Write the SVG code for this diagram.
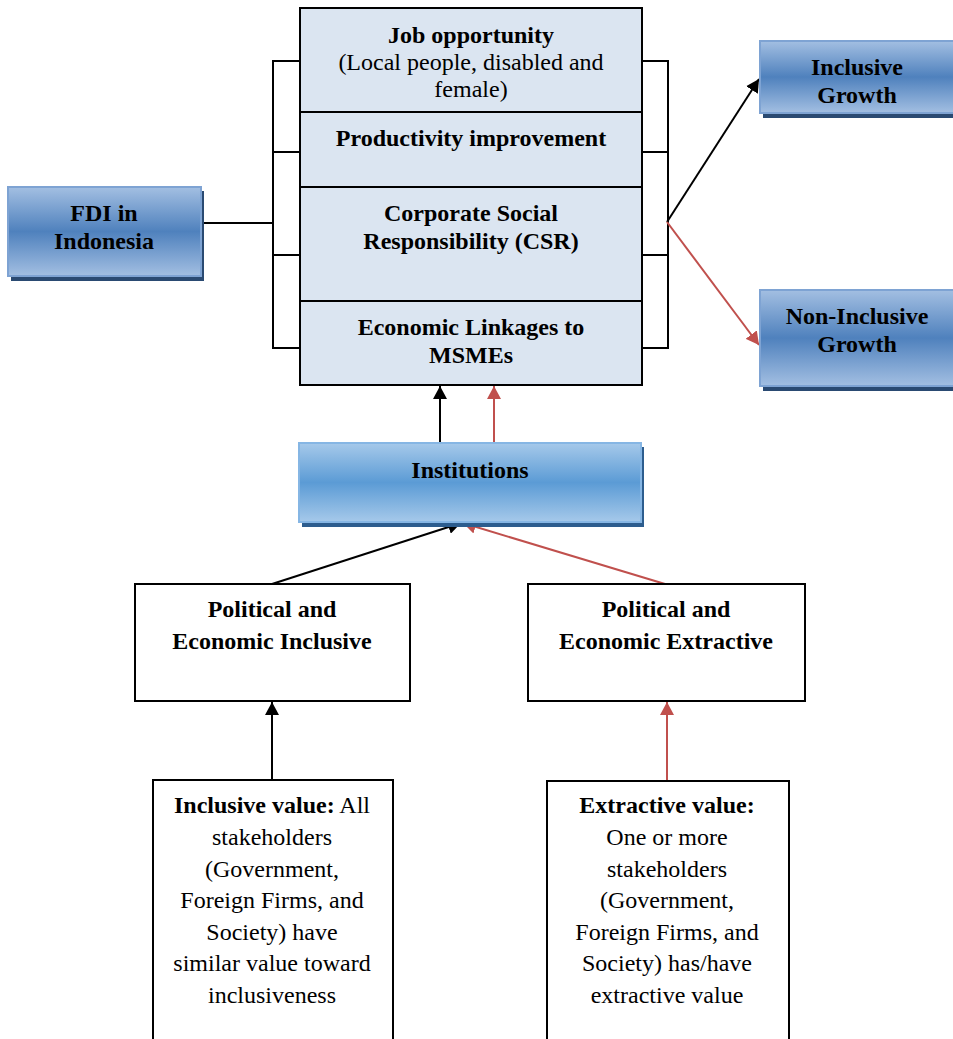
<svg xmlns="http://www.w3.org/2000/svg" width="953" height="1039" viewBox="0 0 953 1039">
  <defs>
    <linearGradient id="gradDark" x1="0" y1="0" x2="0" y2="1">
      <stop offset="0" stop-color="#a3bfe2"/>
      <stop offset="0.5" stop-color="#4f81bd"/>
      <stop offset="1" stop-color="#a3bfe2"/>
    </linearGradient>
    <linearGradient id="gradLight" x1="0" y1="0" x2="0" y2="1">
      <stop offset="0" stop-color="#a6c9ea"/>
      <stop offset="0.5" stop-color="#5b9bd5"/>
      <stop offset="1" stop-color="#a6c9ea"/>
    </linearGradient>
    <marker id="arrowBlack" markerUnits="userSpaceOnUse" markerWidth="14" markerHeight="14" refX="13" refY="7" orient="auto">
      <path d="M0,0 L13,7 L0,14 z" fill="#000"/>
    </marker>
    <marker id="arrowRed" markerUnits="userSpaceOnUse" markerWidth="14" markerHeight="14" refX="13" refY="7" orient="auto">
      <path d="M0,0 L13,7 L0,14 z" fill="#c0504d"/>
    </marker>
  </defs>
  <style>
    text { font-family: "Liberation Serif", "Times New Roman", serif; font-size: 24px; fill: #000; text-anchor: middle; }
    .b { font-weight: bold; }
    .stack { fill: #dbe5f1; stroke: #000; stroke-width: 2; }
    .plain { fill: #fff; stroke: #000; stroke-width: 2; }
    .blue { fill: url(#gradDark); stroke: #7ea3d3; stroke-width: 2; }
    .blueLight { fill: url(#gradLight); stroke: #86b6e4; stroke-width: 2; }
    .shadowDark { fill: #2a4a72; }
    .shadowLight { fill: #2d5d8e; }
    .wire { fill: none; stroke: #000; stroke-width: 2; }
    .red { fill: none; stroke: #c0504d; stroke-width: 2; }
  </style>

  <rect width="953" height="1039" fill="#fff"/>

  <!-- connectors -->
  <g id="connectors">
    <path class="wire" d="M201,223 H273"/>
    <path class="wire" d="M300,61 H273 V348 H300 M273,152 H300 M273,255 H300"/>
    <path class="wire" d="M642,61 H668 V348 H642 M668,152 H642 M668,255 H642"/>
    <line class="wire" x1="667" y1="222" x2="759" y2="79" marker-end="url(#arrowBlack)"/>
    <line class="red" x1="667" y1="222" x2="759" y2="345" marker-end="url(#arrowRed)"/>
    <line class="wire" x1="440" y1="443" x2="440" y2="386" marker-end="url(#arrowBlack)"/>
    <line class="red" x1="494" y1="443" x2="494" y2="386" marker-end="url(#arrowRed)"/>
    <line class="wire" x1="272" y1="584" x2="461" y2="523" marker-end="url(#arrowBlack)"/>
    <line class="red" x1="665" y1="584" x2="463" y2="523" marker-end="url(#arrowRed)"/>
    <line class="wire" x1="272" y1="780" x2="272" y2="702" marker-end="url(#arrowBlack)"/>
    <line class="red" x1="667" y1="780" x2="667" y2="702" marker-end="url(#arrowRed)"/>
  </g>

  <!-- FDI in Indonesia -->
  <g id="fdi">
    <rect class="shadowDark" x="11" y="191" width="193" height="90"/>
    <rect class="blue" x="8" y="187" width="193" height="89"/>
    <text class="b" x="104" y="221">FDI in</text>
    <text class="b" x="104" y="249">Indonesia</text>
  </g>

  <!-- Job opportunity -->
  <g id="job">
    <rect class="stack" x="300" y="8" width="342" height="104"/>
    <text class="b" x="471" y="43">Job opportunity</text>
    <text x="471" y="70">(Local people, disabled and</text>
    <text x="471" y="97">female)</text>
  </g>

  <!-- Productivity improvement -->
  <g id="productivity">
    <rect class="stack" x="300" y="112" width="342" height="75"/>
    <text class="b" x="471" y="146">Productivity improvement</text>
  </g>

  <!-- CSR -->
  <g id="csr">
    <rect class="stack" x="300" y="187" width="342" height="114"/>
    <text class="b" x="471" y="221">Corporate Social</text>
    <text class="b" x="471" y="249">Responsibility (CSR)</text>
  </g>

  <!-- Economic linkages -->
  <g id="linkages">
    <rect class="stack" x="300" y="301" width="342" height="84"/>
    <text class="b" x="471" y="335">Economic Linkages to</text>
    <text class="b" x="471" y="363">MSMEs</text>
  </g>

  <!-- Inclusive Growth -->
  <g id="inclusive-growth">
    <rect class="shadowDark" x="763" y="45" width="200" height="73"/>
    <rect class="blue" x="760" y="41" width="200" height="72"/>
    <text class="b" x="857" y="75">Inclusive</text>
    <text class="b" x="857" y="103">Growth</text>
  </g>

  <!-- Non-Inclusive Growth -->
  <g id="non-inclusive-growth">
    <rect class="shadowDark" x="763" y="294" width="200" height="97"/>
    <rect class="blue" x="760" y="290" width="200" height="96"/>
    <text class="b" x="857" y="324">Non-Inclusive</text>
    <text class="b" x="857" y="352">Growth</text>
  </g>

  <!-- Institutions -->
  <g id="institutions">
    <rect class="shadowLight" x="302" y="447" width="342" height="80"/>
    <rect class="blueLight" x="299" y="443" width="342" height="79"/>
    <text class="b" x="470" y="478">Institutions</text>
  </g>

  <!-- Political and Economic Inclusive -->
  <g id="pol-inclusive">
    <rect class="plain" x="135" y="584" width="275" height="117"/>
    <text class="b" x="272" y="617">Political and</text>
    <text class="b" x="272" y="649">Economic Inclusive</text>
  </g>

  <!-- Political and Economic Extractive -->
  <g id="pol-extractive">
    <rect class="plain" x="528" y="584" width="277" height="117"/>
    <text class="b" x="666" y="617">Political and</text>
    <text class="b" x="666" y="649">Economic Extractive</text>
  </g>

  <!-- Inclusive value -->
  <g id="inclusive-value">
    <rect class="plain" x="153" y="780" width="240" height="270"/>
    <text x="272" y="813"><tspan class="b">Inclusive value:</tspan> All</text>
    <text x="272" y="845">stakeholders</text>
    <text x="272" y="877">(Government,</text>
    <text x="272" y="908">Foreign Firms, and</text>
    <text x="272" y="940">Society) have</text>
    <text x="272" y="971">similar value toward</text>
    <text x="272" y="1003">inclusiveness</text>
  </g>

  <!-- Extractive value -->
  <g id="extractive-value">
    <rect class="plain" x="547" y="781" width="242" height="270"/>
    <text class="b" x="667" y="813">Extractive value:</text>
    <text x="667" y="845">One or more</text>
    <text x="667" y="877">stakeholders</text>
    <text x="667" y="908">(Government,</text>
    <text x="667" y="940">Foreign Firms, and</text>
    <text x="667" y="971">Society) has/have</text>
    <text x="667" y="1003">extractive value</text>
  </g>
</svg>
